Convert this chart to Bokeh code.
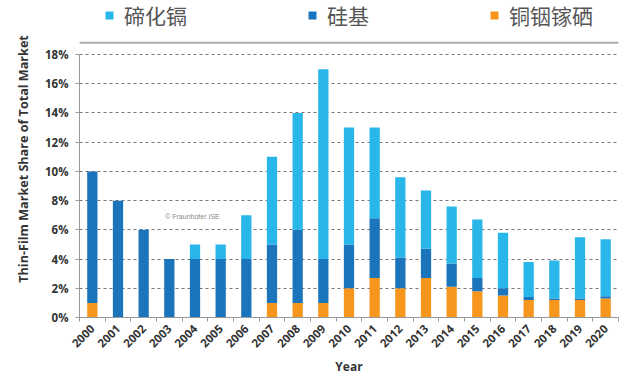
from bokeh.plotting import figure
from bokeh.models import (ColumnDataSource, FixedTicker, Legend, LegendItem, Label,
                          PrintfTickFormatter, BoxAnnotation)
from bokeh.embed import file_html
from bokeh.resources import INLINE
import math

years = list(range(2000, 2021))
cigs = [1, 0, 0, 0, 0, 0, 0, 1, 1, 1, 2, 2.7, 2.0, 2.7, 2.1, 1.8, 1.5, 1.2, 1.2, 1.2, 1.3]
si = [9, 8, 6, 4, 4, 4, 4, 4, 5, 3, 3, 4.1, 2.1, 2.0, 1.6, 0.9, 0.5, 0.2, 0.1, 0.1, 0.15]
cdte = [0, 0, 0, 0, 1, 1, 3, 6, 8, 13, 8, 6.2, 5.5, 4.0, 3.9, 4.0, 3.8, 2.4, 2.6, 4.2, 3.9]
series_names = ["碲化镉", "硅基", "铜铟镓硒"]
y_ticks = [0, 2, 4, 6, 8, 10, 12, 14, 16, 18]
Y_AXIS_MAX = 18
Y_VIEW_TOP = 21.7      # room above the axis for the legend
SEPARATOR_Y = 18.8     # thin rule between legend and plot

C_CDTE = "#29b6e8"
C_SI = "#1b75bc"
C_CIGS = "#f7961d"
FONT = "Open Sans"

src = ColumnDataSource(dict(year=years, cigs=cigs, si=si, cdte=cdte))

p = figure(width=640, height=378, output_backend="svg", toolbar_location=None,
           x_range=(years[0] - 0.5, years[-1] + 0.5), y_range=(0, Y_VIEW_TOP),
           min_border_left=79, min_border_right=22, min_border_top=0, min_border_bottom=61)
p.outline_line_color = None
p.background_fill_color = "white"

rs = p.vbar_stack(["cigs", "si", "cdte"], x="year", width=0.4,
                  color=[C_CIGS, C_SI, C_CDTE], line_color=None, source=src)

# separator rule under the legend
p.add_layout(BoxAnnotation(top=SEPARATOR_Y + 0.06, bottom=SEPARATOR_Y - 0.06,
                           fill_color="#b0b0b0", fill_alpha=1.0, line_color=None,
                           level="glyph"))
p.hspan(y=[SEPARATOR_Y], line_color="#aaaaaa", line_width=1.5, line_alpha=1.0)

p.yaxis.ticker = FixedTicker(ticks=y_ticks)
p.yaxis.bounds = (0, Y_AXIS_MAX)
p.yaxis.formatter = PrintfTickFormatter(format="%d%%")
p.yaxis.major_label_text_font_style = "bold"
p.yaxis.major_label_text_font_size = "11.5px"
p.yaxis.major_label_text_color = "#333333"
p.yaxis.major_label_text_font = FONT
p.yaxis.major_label_standoff = 7
p.yaxis.axis_label = "Thin-Film Market Share of Total Market"
p.yaxis.axis_label_text_font_style = "bold"
p.yaxis.axis_label_text_font_size = "12.6px"
p.yaxis.axis_label_text_font = FONT
p.yaxis.axis_label_text_color = "#333333"
p.yaxis.axis_label_standoff = 10
p.yaxis.major_tick_in = 0
p.yaxis.major_tick_out = 4
p.yaxis.minor_tick_line_color = None
p.yaxis.axis_line_color = "#999999"
p.yaxis.major_tick_line_color = "#999999"

p.xaxis.ticker = FixedTicker(ticks=years, minor_ticks=[y - 0.5 for y in years] + [years[-1] + 0.5])
p.xaxis.major_tick_line_color = None
p.xaxis.minor_tick_in = 0
p.xaxis.minor_tick_out = 4
p.xaxis.minor_tick_line_color = "#999999"
p.xaxis.axis_line_color = "#999999"
p.xaxis.major_label_orientation = math.pi / 4
p.xaxis.major_label_text_font_style = "bold"
p.xaxis.major_label_text_font_size = "11.5px"
p.xaxis.major_label_text_font = FONT
p.xaxis.major_label_text_color = "#333333"
p.xaxis.major_label_standoff = 3
p.xaxis.axis_label = "Year"
p.xaxis.axis_label_text_font_style = "bold"
p.xaxis.axis_label_text_font_size = "12px"
p.xaxis.axis_label_text_font = FONT
p.xaxis.axis_label_text_color = "#333333"
p.xaxis.axis_label_standoff = 4

p.xgrid.grid_line_color = None
p.ygrid.grid_line_color = "#777777"
p.ygrid.grid_line_dash = "3 3"
p.ygrid.grid_line_width = 1

p.add_layout(Label(x=2003.9, y=6.9, text="© Fraunhofer ISE", text_font_size="7px",
                   text_color="#888888", text_align="center", text_baseline="middle"))

legend = Legend(items=[LegendItem(label=series_names[0], renderers=[rs[2]]),
                       LegendItem(label=series_names[1], renderers=[rs[1]]),
                       LegendItem(label=series_names[2], renderers=[rs[0]])],
                orientation="horizontal", location=(25, 287), spacing=120,
                label_text_font="Noto Sans CJK SC", label_text_font_size="21px",
                label_text_color="#555555", glyph_width=10, glyph_height=10,
                label_standoff=10, padding=0, margin=0, border_line_color=None,
                background_fill_alpha=0, label_height=20)
p.add_layout(legend)

open("out.html", "w").write(file_html(p, INLINE))
